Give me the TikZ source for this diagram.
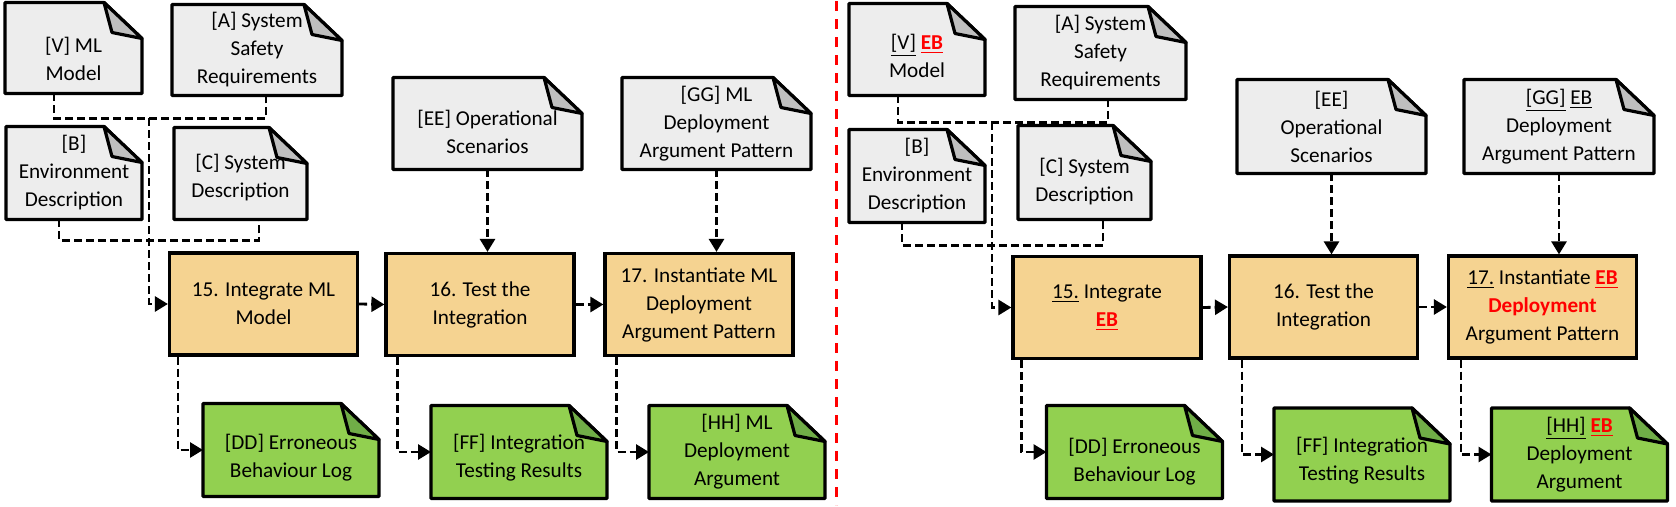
\documentclass[tikz,border=0pt]{standalone}
\usepackage{fontspec}
\setmainfont{Carlito}
\usetikzlibrary{arrows.meta, backgrounds}
\definecolor{docGray}{HTML}{EDEDED}
\definecolor{foldGray}{HTML}{BFBFBF}
\definecolor{taskOrange}{HTML}{F5D391}
\definecolor{outGreen}{HTML}{92D050}
\definecolor{foldGreen}{HTML}{70AD47}
\newcommand{\ebmark}{\textcolor{red}{\underline{\textbf{EB}}}}
% taller first line, pushes a short text down in its sheet
\newcommand{\lowtext}[1]{\rule{0pt}{#1}}

\begin{document}
\begin{tikzpicture}[
  x=0.5pt, y=-0.5pt,
  every node/.style={font=\fontsize{10.6}{14}\selectfont, align=center, inner sep=0pt},
  doc/.style={outer sep=0pt},
  outdoc/.style={outer sep=0pt, minimum width=88pt, minimum height=46.5pt},
  task/.style={draw, fill=taskOrange, line width=1.6pt, minimum width=94pt, minimum height=51pt},
  sheet/.style={line width=1.6pt, line join=round},
  link/.style={line width=1.4pt, dash pattern=on 4pt off 2pt},
  arrow/.style={link, -{Triangle[length=6.5pt, width=7.5pt]}},
]
  % left half
  \node[doc, minimum width=68.5pt, minimum height=45.5pt] (v1) at (73.5,46.5) {\lowtext{19pt}[V] ML\\Model};
  \node[doc, minimum width=85pt, minimum height=45.5pt] (a1) at (257,48.5) {[A] System\\Safety\\Requirements};
  \node[doc, minimum width=68pt, minimum height=46.5pt] (b1) at (74,171.5) {[B]\\Environment\\Description};
  \node[doc, minimum width=66.5pt, minimum height=46pt] (c1) at (240.5,172) {\lowtext{11.5pt}[C] System\\Description};
  \node[doc, minimum width=94.5pt, minimum height=46pt] (ee1) at (487.5,122) {\lowtext{16.5pt}[EE] Operational\\Scenarios};
  \node[doc, minimum width=94.5pt, minimum height=46pt] (gg1) at (716.5,122) {[GG] ML\\Deployment\\Argument Pattern};
  \node[task] (i15) at (263.5,302.5) {15. Integrate ML\\Model};
  \node[task] (i16) at (480,303) {16. Test the\\Integration};
  \node[task] (i17) at (699,303) {17. Instantiate ML\\Deployment\\Argument Pattern};
  \node[outdoc] (dd1) at (291,448.5) {\lowtext{15.5pt}[DD] Erroneous\\Behaviour Log};
  \node[outdoc] (ff1) at (519,450.5) {\lowtext{13.5pt}[FF] Integration\\Testing Results};
  \node[outdoc] (hh1) at (737,450.5) {[HH] ML\\Deployment\\Argument};
  \coordinate (j1) at (149,117);

  \draw[link] ([xshift=-9.75pt]v1.south) |- (j1) -| ([xshift=4.5pt]a1.south);
  \draw[link] ([xshift=-7.5pt]b1.south) -- ++(0,21) -| ([xshift=9.25pt]c1.south);
  \draw[arrow] (j1) |- (i15.west);
  \draw[arrow] (ee1.south) -- (ee1.south |- i16.north);
  \draw[arrow] (gg1.south) -- (gg1.south |- i17.north);
  \draw[arrow] (i15.east) -- (i16.west);
  \draw[arrow] (i16.east) -- (i17.west);
  \draw[arrow] ([xshift=5pt]i15.south west) |- (dd1.west);
  \draw[arrow] ([xshift=6.5pt]i16.south west) |- (ff1.west);
  \draw[arrow] ([xshift=6.5pt]i17.south west) |- (hh1.west);

  % separator
  \coordinate (s1) at (836,0);
  \coordinate (s2) at (836,504);
  \draw[red, line width=1.5pt, dash pattern=on 5pt off 4pt] (s1) -- (s2);

  % right half
  \node[doc, minimum width=68pt, minimum height=46pt] (v2) at (917,48) {\lowtext{14.5pt}\underline{[V]} \ebmark\\Model};
  \node[doc, minimum width=85.5pt, minimum height=46.5pt] (a2) at (1100.5,51.5) {[A] System\\Safety\\Requirements};
  \node[doc, minimum width=68pt, minimum height=46.5pt] (b2) at (917,174.5) {[B]\\Environment\\Description};
  \node[doc, minimum width=66.5pt, minimum height=47pt] (c2) at (1084.5,171) {\lowtext{16.5pt}[C] System\\Description};
  \node[doc, minimum width=94.5pt, minimum height=47pt] (ee2) at (1331.5,125) {[EE]\\Operational\\Scenarios};
  \node[doc, minimum width=95pt, minimum height=47pt] (gg2) at (1559,125) {\underline{[GG]} \underline{EB}\\Deployment\\Argument Pattern};
  \node[task] (i15r) at (1107,306) {\underline{15.} Integrate\\\ebmark};
  \node[task] (i16r) at (1323.5,305.5) {16. Test the\\Integration};
  \node[task] (i17r) at (1542.5,305.5) {\underline{17.} Instantiate \ebmark\\\textcolor{red}{\textbf{Deployment}}\\Argument Pattern};
  \node[outdoc] (dd2) at (1134.5,450.5) {\lowtext{17.5pt}[DD] Erroneous\\Behaviour Log};
  \node[outdoc] (ff2) at (1362,453) {\lowtext{13.5pt}[FF] Integration\\Testing Results};
  \node[outdoc] (hh2) at (1579.5,453) {\underline{[HH]} \ebmark\\Deployment\\Argument};
  \coordinate (j2) at (992,121);

  \draw[link] ([xshift=-9.5pt]v2.south) |- (j2) -| ([xshift=3.75pt]a2.south);
  \draw[link] ([xshift=-7.5pt]b2.south) -- ++(0,23) -| ([xshift=9.25pt]c2.south);
  \draw[arrow] (j2) |- (i15r.west);
  \draw[arrow] (ee2.south) -- (ee2.south |- i16r.north);
  \draw[arrow] (gg2.south) -- (gg2.south |- i17r.north);
  \draw[arrow] (i15r.east) -- (i16r.west);
  \draw[arrow] (i16r.east) -- (i17r.west);
  \draw[arrow] ([xshift=5pt]i15r.south west) |- (dd2.west);
  \draw[arrow] ([xshift=7pt]i16r.south west) |- (ff2.west);
  \draw[arrow] ([xshift=7pt]i17r.south west) |- (hh2.west);

  % sheets with folded corner, behind the texts
  \begin{scope}[on background layer]
    \foreach \n/\body/\fold in {v1/docGray/foldGray, a1/docGray/foldGray, b1/docGray/foldGray,
        c1/docGray/foldGray, ee1/docGray/foldGray, gg1/docGray/foldGray,
        v2/docGray/foldGray, a2/docGray/foldGray, b2/docGray/foldGray,
        c2/docGray/foldGray, ee2/docGray/foldGray, gg2/docGray/foldGray,
        dd1/outGreen/foldGreen, ff1/outGreen/foldGreen, hh1/outGreen/foldGreen,
        dd2/outGreen/foldGreen, ff2/outGreen/foldGreen, hh2/outGreen/foldGreen} {
      \filldraw[sheet, fill=\body] (\n.north west) -- ([xshift=-19pt]\n.north east)
        -- ([yshift=-18pt]\n.north east) -- (\n.south east) -- (\n.south west) -- cycle;
      \filldraw[sheet, fill=\fold] ([xshift=-19pt]\n.north east)
        -- ([xshift=-15pt, yshift=-15pt]\n.north east) -- ([yshift=-18pt]\n.north east) -- cycle;
    }
  \end{scope}

  \useasboundingbox (0,0) rectangle (1676,504);
\end{tikzpicture}
\end{document}
